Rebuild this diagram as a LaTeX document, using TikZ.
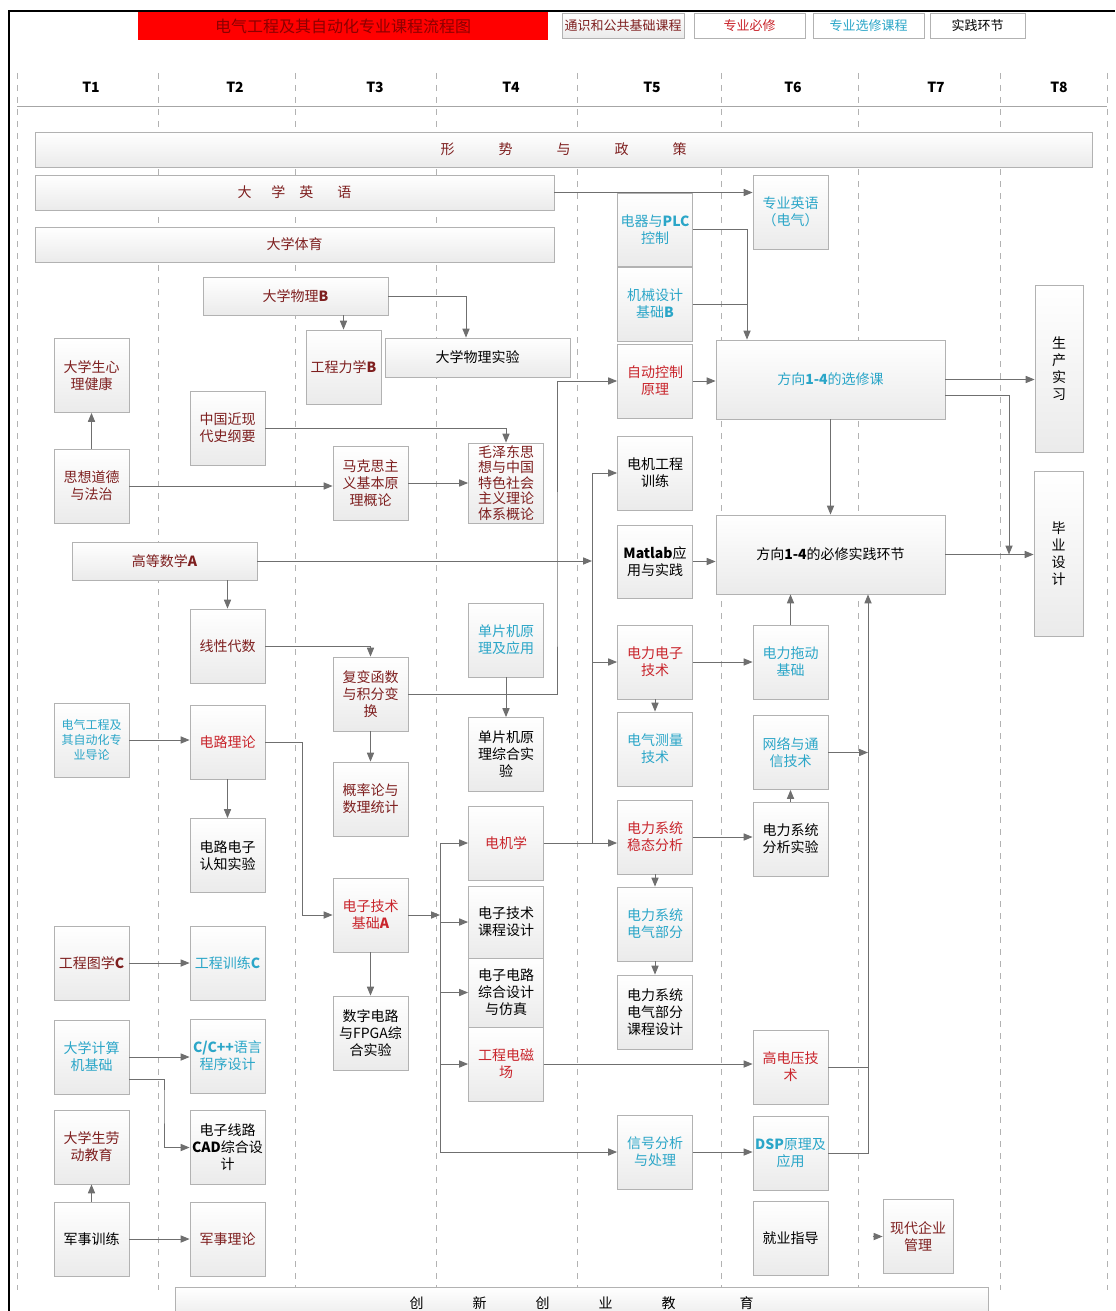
\documentclass[tikz,border=0pt]{standalone}
\usepackage{fontspec}
\setmainfont{Noto Sans CJK SC}
\usetikzlibrary{arrows.meta, calc}
\definecolor{gencol}{HTML}{7E1F1F}
\definecolor{reqcol}{HTML}{C9252C}
\definecolor{elecol}{HTML}{2BA6C8}
\definecolor{linecol}{HTML}{6F6F6F}
\tikzset{
  course/.style={draw=gray!60, top color=white, bottom color=gray!16, minimum width=37.5pt, minimum height=37pt, align=center, inner sep=1pt, font=\fontsize{7}{8.5}\selectfont},
  bar/.style={course, minimum height=17.5pt},
  gen/.style={text=gencol},
  req/.style={text=reqcol},
  ele/.style={text=elecol},
  legendbox/.style={draw=gray!60, fill=white, minimum height=12.5pt, inner sep=1pt, font=\fontsize{6.5}{7}\selectfont},
  headlabel/.style={font=\bfseries\fontsize{7}{8}\selectfont},
  arr/.style={-{Triangle[length=4.5pt, width=3.6pt]}, linecol, line width=0.5pt},
  link/.style={linecol, line width=0.5pt},
  colline/.style={gray!60, dashed, line width=0.4pt},
}

\begin{document}
\begin{tikzpicture}[x=0.5pt, y=-0.5pt]
  \useasboundingbox (0,0) rectangle (1115,1311);
  \draw[line width=1.2pt] (9,1311) -- (9,11) -- (1115,11);
  \node[fill=red, minimum width=205pt, minimum height=14pt, inner sep=0pt, text=red!55!black, font=\fontsize{8}{9}\selectfont] (titlebar) at (343,26) {电气工程及其自动化专业课程流程图};
  \node[legendbox, top color=white, bottom color=gray!16, minimum width=61pt, text=gencol] (lgen) at (623,25.5) {通识和公共基础课程};
  \node[legendbox, minimum width=55.5pt, text=reqcol] (lreq) at (749.5,25.5) {专业必修};
  \node[legendbox, minimum width=55.5pt, text=elecol] (lele) at (868.5,25.5) {专业选修课程};
  \node[legendbox, minimum width=47.5pt] (lprac) at (977.5,25.5) {实践环节};

  \foreach \x in {17,158,295,436,577,721,858,1000,1107}
    \draw[colline] (\x,73) -- (\x,1290);
  \draw[gray!70] (17,106) -- (1107,106);
  \foreach \x/\t in {91/T1,235/T2,375/T3,511/T4,652/T5,793/T6,936/T7,1059/T8}
    \node[headlabel] (h\t) at (\x,87) {\t};

  \node[bar, gen, minimum width=528.5pt] (policy) at (563.5,149.5) {形\hspace{22pt}势\hspace{22pt}与\hspace{22pt}政\hspace{22pt}策};
  \node[bar, gen, minimum width=259.5pt] (eng1) at (294.5,192.5) {大\hspace{10pt}学\hspace{7pt}英\hspace{12pt}语};
  \node[bar, gen, minimum width=259.5pt] (pe1) at (294.5,244.5) {大学体育};
  \node[bar, gen, minimum width=92.5pt, minimum height=19pt] (phys) at (295.5,296) {大学物理\textbf{B}};
  \node[bar, minimum width=92.5pt, minimum height=19.5pt] (physlab) at (477.5,357.5) {大学物理实验};
  \node[bar, gen, minimum width=92.5pt, minimum height=19pt] (math) at (164.5,561) {高等数学\textbf{A}};
  \node[bar, minimum width=406.5pt, minimum height=16.5pt] (inno) at (581.5,1303.5) {创\hspace{24.5pt}新\hspace{24.5pt}创\hspace{24.5pt}业\hspace{24.5pt}教\hspace{32pt}育};

  \node[course, gen] (psy) at (91.5,375.5) {大学生心\\理健康};
  \node[course, gen] (moral) at (91.5,486) {思想道德\\与法治};
  \node[course, ele, font=\fontsize{6}{7.5}\selectfont] (intro) at (91.5,740) {电气工程及\\其自动化专\\业导论};
  \node[course, gen] (engdraw) at (91.5,963) {工程图学\textbf{C}};
  \node[course, ele] (comp) at (91.5,1057) {大学计算\\机基础};
  \node[course, gen] (labor) at (91.5,1147) {大学生劳\\动教育};
  \node[course] (miltrain) at (91.5,1239) {军事训练};

  \node[course, gen] (hist) at (227.5,428) {中国近现\\代史纲要};
  \node[course, gen] (linalg) at (227.5,646) {线性代数};
  \node[course, req] (circ) at (227.5,742) {电路理论};
  \node[course] (circlab) at (227.5,855.5) {电路电子\\认知实验};
  \node[course, ele] (engtrain) at (227.5,963) {工程训练\textbf{C}};
  \node[course, ele] (cpp) at (227.5,1056) {\textbf{C/C++}语言\\程序设计};
  \node[course] (cad) at (227.5,1147.5) {电子线路\\\textbf{CAD}综合设\\计};
  \node[course, gen] (milth) at (227.5,1239) {军事理论};

  \node[course, gen] (mech) at (343.5,367) {工程力学\textbf{B}};
  \node[course, gen] (marx) at (370.5,483) {马克思主\\义基本原\\理概论};
  \node[course, gen] (cplx) at (370.5,694) {复变函数\\与积分变\\换};
  \node[course, gen] (prob) at (370.5,799) {概率论与\\数理统计};
  \node[course, req] (etA) at (370.5,915) {电子技术\\基础\textbf{A}};
  \node[course] (fpga) at (370.5,1033) {数字电路\\与FPGA综\\合实验};

  \node[course, gen, minimum height=40pt, inner sep=0pt, font=\fontsize{7}{7.8}\selectfont] (mao) at (506,483) {毛泽东思\\想与中国\\特色社会\\主义理论\\体系概论};
  \node[course, ele] (mcu) at (506,640) {单片机原\\理及应用};
  \node[course] (mculab) at (506,754.5) {单片机原\\理综合实\\验};
  \node[course, req] (mach) at (506,843) {电机学};
  \node[course, minimum height=36pt] (ecd) at (506,922) {电子技术\\课程设计};
  \node[course, minimum height=34.5pt] (ecs) at (506,992.5) {电子电路\\综合设计\\与仿真};
  \node[course, req] (emf) at (506,1064) {工程电磁\\场};

  \node[course, ele, minimum height=36.5pt] (plc) at (655,229.5) {电器与\textbf{PLC}\\控制};
  \node[course, ele] (mdes) at (655,304) {机械设计\\基础\textbf{B}};
  \node[course, req] (auto) at (655,381) {自动控制\\原理};
  \node[course] (motlab) at (655,473) {电机工程\\训练};
  \node[course, minimum height=36.5pt] (matlab) at (655,561.5) {\textbf{Matlab}应\\用与实践};
  \node[course, req] (pe) at (655,662) {电力电子\\技术};
  \node[course, ele] (meas) at (655,749) {电气测量\\技术};
  \node[course, req] (psa) at (655,837) {电力系统\\稳态分析};
  \node[course, ele] (pse) at (655,924) {电力系统\\电气部分};
  \node[course] (psd) at (655,1012) {电力系统\\电气部分\\课程设计};
  \node[course, ele] (sig) at (655,1152) {信号分析\\与处理};

  \node[course, ele] (eng2) at (790.5,212) {专业英语\\（电气）};
  \node[course, ele] (drive) at (790.5,662) {电力拖动\\基础};
  \node[course, ele] (net) at (790.5,752.5) {网络与通\\信技术};
  \node[course] (pslab) at (790.5,839) {电力系统\\分析实验};
  \node[course, req] (hv) at (790.5,1067) {高电压技\\术};
  \node[course, ele] (dsp) at (790.5,1153) {\textbf{DSP}原理及\\应用};
  \node[course] (job) at (790.5,1238.5) {就业指导};
  \node[course, gen, minimum width=35pt] (mgmt) at (918,1236.5) {现代企业\\管理};

  \node[course, ele, minimum width=114.5pt, minimum height=39.5pt] (elect) at (830.5,379.5) {方向\textbf{1-4}的选修课};
  \node[course, minimum width=114.5pt, minimum height=39.5pt] (prac) at (830.5,554.5) {方向\textbf{1-4}的必修实践环节};
  \node[course, minimum width=24pt, minimum height=83.5pt] (intern) at (1059,368.5) {生\\产\\实\\习};
  \node[course, minimum width=24.5pt, minimum height=82.5pt] (thesis) at (1058.5,553.5) {毕\\业\\设\\计};

  \coordinate (busT3) at (302,742);
  \coordinate (busT4) at (440,843);
  \coordinate (busT5) at (592,473);
  \coordinate (busT6) at (868,1153);
  \coordinate (busAuto) at (557,600);
  \coordinate (busCad) at (164,1100);
  \coordinate (busElect) at (747,300);
  \coordinate (busThesis) at (1009,554.5);

  \draw[arr] (eng1.east) -- (eng1.east -| eng2.west);
  \draw[arr] (phys.east) -| ($(physlab.north)+(-11.5,0)$);
  \draw[arr] (mech.north |- phys.south) -- (mech.north);
  \draw[arr] (moral.north) -- (psy.south);
  \draw[arr] (hist.east) -| (mao.north);
  \draw[arr] (moral.east) -- (moral.east -| marx.west);
  \draw[arr] (marx.east) -- (mao.west);
  \draw[arr] (linalg.north |- math.south) -- (linalg.north);
  \draw[arr] (math.east) -- (math.east -| busT5);
  \draw[link] (busT5) -- (busT5 |- mach.east);
  \draw[arr] (busT5) -- (motlab.west);
  \draw[arr] (busT5 |- pe.west) -- (pe.west);
  \draw[arr] (mach.east) -- (mach.east -| psa.west);
  \draw[arr] (cplx.east) -| (busAuto) |- (auto.west);
  \draw[arr] (mcu.south) -- (mculab.north);
  \draw[arr] (linalg.east) -| (cplx.north);
  \draw[arr] (cplx.south) -- (prob.north);
  \draw[arr] (intro.east) -- (intro.east -| circ.west);
  \draw[arr] (circ.south) -- (circlab.north);
  \draw[arr] (circ.east) -- (busT3) |- (etA.west);
  \draw[arr] (etA.south) -- (fpga.north);
  \draw[arr] (etA.east) -- (etA.east -| busT4);
  \draw[arr] (busT4) -- (mach.west);
  \draw[arr] (busT4) |- (sig.west);
  \draw[arr] (busT4 |- ecd.west) -- (ecd.west);
  \draw[arr] (busT4 |- ecs.west) -- (ecs.west);
  \draw[arr] (busT4 |- emf.west) -- (emf.west);
  \draw[arr] (engdraw.east) -- (engtrain.west);
  \draw[arr] (comp.east) -- (comp.east -| cpp.west);
  \draw[arr] ([yshift=-11pt]comp.east) -| (busCad) |- (cad.west);
  \draw[arr] (miltrain.north) -- (labor.south);
  \draw[arr] (miltrain.east) -- (milth.west);
  \draw[arr] (plc.east) -| (busElect) -- (busElect |- elect.north);
  \draw[link] (mdes.east) -- (mdes.east -| busElect);
  \draw[arr] (auto.east) -- (auto.east -| elect.west);
  \draw[arr] (matlab.east) -- (matlab.east -| prac.west);
  \draw[arr] (elect.south) -- (prac.north);
  \draw[arr] (elect.east) -- (elect.east -| intern.west);
  \draw[arr] ([yshift=-8pt]elect.east) -| (busThesis);
  \draw[arr] (prac.east) -- (prac.east -| thesis.west);
  \draw[arr] (pe.south) -- (meas.north);
  \draw[arr] (pe.east) -- (pe.east -| drive.west);
  \draw[arr] (drive.north) -- (drive.north |- prac.south);
  \draw[arr] (psa.east) -- (psa.east -| pslab.west);
  \draw[arr] (psa.south) -- (pse.north);
  \draw[arr] (pse.south) -- (psd.north);
  \draw[arr] (pslab.north) -- (net.south);
  \draw[arr] (dsp.east) -| (busT6 |- prac.south);
  \draw[arr] (net.east) -- (net.east -| busT6);
  \draw[link] (hv.east) -- (hv.east -| busT6);
  \draw[arr] (emf.east) -- (emf.east -| hv.west);
  \draw[arr] (sig.east) -- (sig.east -| dsp.west);
  \draw[arr] ([xshift=-5pt]mgmt.west) -- (mgmt.west);
\end{tikzpicture}
\end{document}
